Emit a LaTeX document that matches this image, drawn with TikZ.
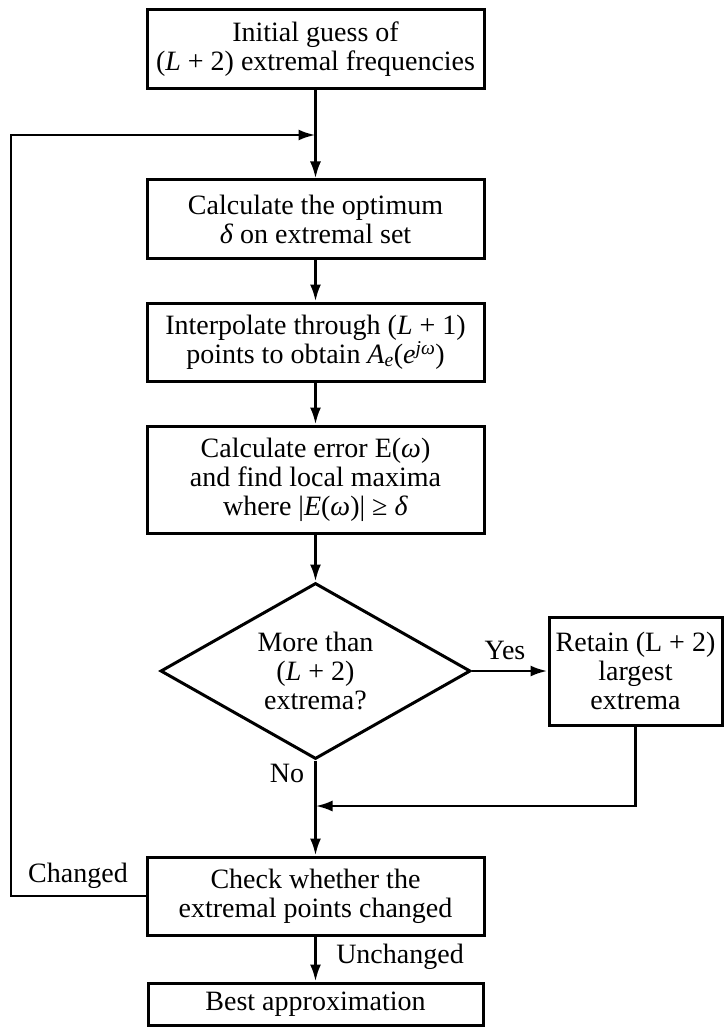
\documentclass[tikz,border=0pt]{standalone}
\usepackage{fontspec}
\setmainfont{Liberation Serif}
\usetikzlibrary{shapes.geometric,arrows.meta}
\begin{document}
\begin{tikzpicture}[x=1pt,y=-1pt,
  txt/.style={font=\fontsize{28}{29}\selectfont},
  box/.style={txt,draw,line width=3pt,inner sep=0pt,align=center,minimum width=337pt},
  dec/.style={txt,draw,line width=3pt,shape=diamond,inner sep=0pt,align=center,minimum width=310pt,minimum height=176pt,aspect=1.76},
  arr/.style={line width=2.8pt,-{Latex[length=17pt,width=11pt]}},
  lbl/.style={txt,inner sep=0pt}]
\useasboundingbox (0,0) rectangle (724,1027);
\node[box,minimum height=79pt] (b1) at (315.5,49.5) {Initial guess of\\(\textit{L} + 2) extremal frequencies};
\node[box,minimum height=78pt] (b2) at (315.5,219) {Calculate the optimum\\\textit{δ} on extremal set};
\node[box,minimum height=78pt] (b3) at (315.5,342) {Interpolate through (\textit{L} + 1)\\points to obtain \textit{A}\textsubscript{\textit{e}}(\textit{e}\textsuperscript{\textit{jω}})};
\node[box,minimum height=107pt] (b4) at (315.5,479.5) {Calculate error E(\textit{ω})\\and find local maxima\\where |\textit{E}(\textit{ω})| ≥ \textit{δ}};
\node[dec] (dia) at (315.5,671) {More than\\(\textit{L} + 2)\\extrema?};
\node[box,minimum width=173pt,minimum height=108pt] (ret) at (635.5,671) {Retain (L + 2)\\largest\\extrema};
\node[box,minimum height=78pt] (b5) at (315.5,896) {Check whether the\\extremal points changed};
\node[box,minimum width=335pt,minimum height=42pt] (b6) at (315.5,1004) {Best approximation};
\coordinate (j1) at (315.5,135);
\coordinate (j2) at (315.5,806);
\coordinate (lx) at (11,0);
\draw[arr] (b1.south) -- (b2.north);
\draw[arr] (b2.south) -- (b3.north);
\draw[arr] (b3.south) -- (b4.north);
\draw[arr] (b4.south) -- (dia.north);
\draw[arr] (dia.east) -- (ret.west);
\draw[arr] (ret.south) |- (j2);
\draw[arr] (dia.south) -- (b5.north);
\draw[arr] (b5.south) -- (b6.north);
\draw[arr] (b5.west) -| (lx |- j1) -- (j1);
\node[lbl] (yes) at (505,650) {Yes};
\node[lbl] (no) at (287,773) {No};
\node[lbl] (chg) at (78,876) {Changed};
\node[lbl] (unc) at (400,957) {Unchanged};
\end{tikzpicture}
\end{document}
